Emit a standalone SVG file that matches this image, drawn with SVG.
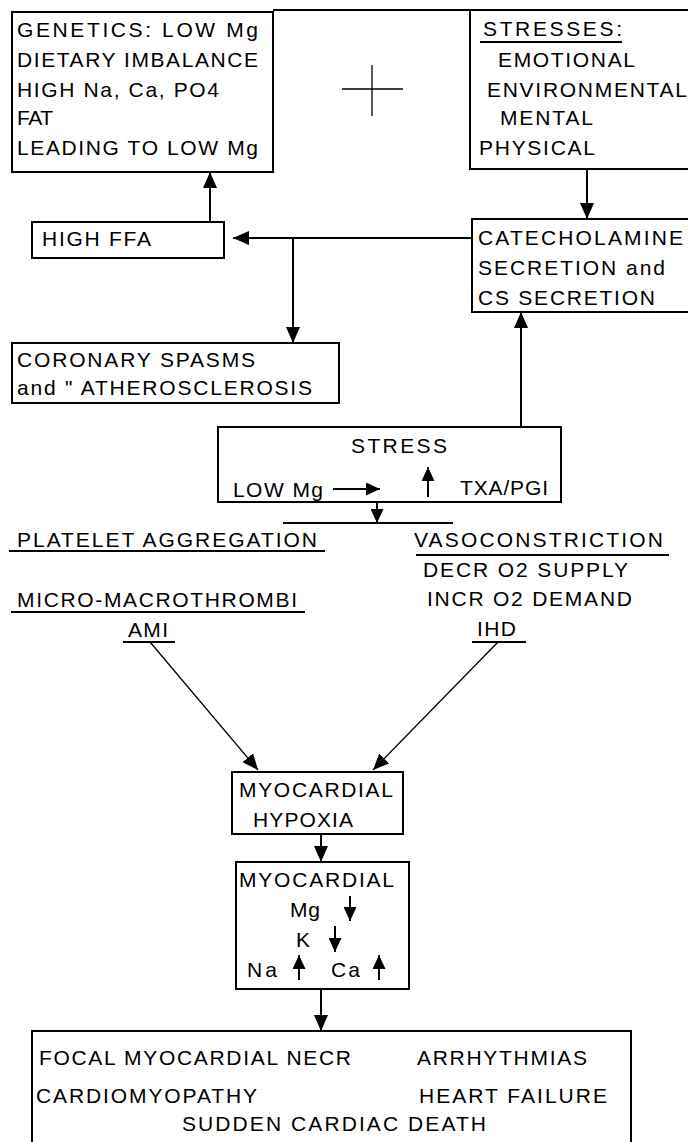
<svg xmlns="http://www.w3.org/2000/svg" width="688" height="1142" viewBox="0 0 688 1142">
<style>
text{font-family:"Liberation Sans",Arial,sans-serif;font-size:21px;fill:#000}
.box{fill:#fff;stroke:#000;stroke-width:2}
.ln{stroke:#000;stroke-width:2;fill:none}
.thin{stroke:#000;stroke-width:1.3;fill:none}
</style>
<defs>
<marker id="ah" viewBox="0 0 16 14" refX="16" refY="7" markerWidth="16" markerHeight="14" orient="auto" markerUnits="userSpaceOnUse"><path d="M0,0 L16,7 L0,14 z" fill="#000"/></marker>
<marker id="as" viewBox="0 0 14 13" refX="14" refY="6.5" markerWidth="14" markerHeight="13" orient="auto" markerUnits="userSpaceOnUse"><path d="M0,0 L14,6.5 L0,13 z" fill="#000"/></marker>
</defs>
<rect x="0" y="0" width="688" height="1142" fill="#fff"/>

<g id="genetics">
<rect class="box" x="12" y="12" width="261" height="160"/>
<text x="17" y="37" textLength="241" lengthAdjust="spacing">GENETICS:  LOW Mg</text>
<text x="17" y="67" textLength="241" lengthAdjust="spacing">DIETARY IMBALANCE</text>
<text x="17" y="97" textLength="202" lengthAdjust="spacing">HIGH Na, Ca, PO4</text>
<text x="17" y="125" textLength="36" lengthAdjust="spacing">FAT</text>
<text x="17" y="155" textLength="241" lengthAdjust="spacing">LEADING TO LOW Mg</text>
</g>

<g id="plus">
<line class="thin" x1="342" y1="89" x2="403" y2="89"/>
<line class="thin" x1="372" y1="65" x2="372" y2="116"/>
</g>

<g id="stresses">
<line class="ln" x1="273" y1="10" x2="470" y2="10"/>
<rect class="box" x="470" y="10" width="240" height="159"/>
<text x="483" y="36" textLength="139" lengthAdjust="spacing">STRESSES:</text>
<line class="ln" x1="480" y1="42" x2="622" y2="42"/>
<text x="498" y="67" textLength="137" lengthAdjust="spacing">EMOTIONAL</text>
<text x="487" y="97" textLength="200" lengthAdjust="spacing">ENVIRONMENTAL</text>
<text x="500" y="125" textLength="93" lengthAdjust="spacing">MENTAL</text>
<text x="479" y="155" textLength="116" lengthAdjust="spacing">PHYSICAL</text>
</g>

<g id="highffa">
<rect class="box" x="32" y="222" width="192" height="36"/>
<text x="42" y="246" textLength="109" lengthAdjust="spacing">HIGH FFA</text>
</g>

<g id="catecholamine">
<rect class="box" x="472" y="219" width="240" height="93"/>
<text x="478" y="245" textLength="205" lengthAdjust="spacing">CATECHOLAMINE</text>
<text x="478" y="275" textLength="187" lengthAdjust="spacing">SECRETION and</text>
<text x="478" y="305" textLength="177" lengthAdjust="spacing">CS SECRETION</text>
</g>

<g id="coronary">
<rect class="box" x="12" y="343" width="327" height="60"/>
<text x="17" y="367" textLength="238" lengthAdjust="spacing">CORONARY SPASMS</text>
<text x="17" y="395" textLength="295" lengthAdjust="spacing">and " ATHEROSCLEROSIS</text>
</g>

<g id="stress">
<rect class="box" x="218" y="427" width="343" height="75"/>
<text x="351" y="453" textLength="96" lengthAdjust="spacing">STRESS</text>
<text x="233" y="497" textLength="90" lengthAdjust="spacing">LOW Mg</text>
<line class="ln" x1="333" y1="489" x2="380" y2="489" marker-end="url(#as)"/>
<line class="ln" x1="428" y1="497" x2="428" y2="467" marker-end="url(#as)"/>
<text x="460" y="495" textLength="88" lengthAdjust="spacing">TXA/PGI</text>
</g>

<g id="platelet">
<text x="17" y="547" textLength="300" lengthAdjust="spacing">PLATELET AGGREGATION</text>
<line class="ln" x1="9" y1="551" x2="325" y2="551"/>
<text x="17" y="607" textLength="280" lengthAdjust="spacing">MICRO-MACROTHROMBI</text>
<line class="ln" x1="11" y1="612" x2="305" y2="612"/>
<text x="128" y="637" textLength="40" lengthAdjust="spacing">AMI</text>
<line class="ln" x1="123" y1="642" x2="175" y2="642"/>
</g>

<g id="vasoconstriction">
<text x="414" y="547" textLength="249" lengthAdjust="spacing">VASOCONSTRICTION</text>
<line class="ln" x1="416" y1="555" x2="669" y2="555"/>
<text x="423" y="577" textLength="205" lengthAdjust="spacing">DECR O2 SUPPLY</text>
<text x="427" y="606" textLength="205" lengthAdjust="spacing">INCR O2 DEMAND</text>
<text x="477" y="636" textLength="39" lengthAdjust="spacing">IHD</text>
<line class="ln" x1="472" y1="642" x2="526" y2="642"/>
</g>

<g id="hypoxia">
<rect class="box" x="232" y="772" width="171" height="62"/>
<text x="239" y="797" textLength="154" lengthAdjust="spacing">MYOCARDIAL</text>
<text x="253" y="827" textLength="100" lengthAdjust="spacing">HYPOXIA</text>
</g>

<g id="myocardial">
<rect class="box" x="236" y="862" width="173" height="127"/>
<text x="239" y="887" textLength="155" lengthAdjust="spacing">MYOCARDIAL</text>
<text x="290" y="917" textLength="30" lengthAdjust="spacing">Mg</text>
<line class="ln" x1="350" y1="896" x2="350" y2="921" marker-end="url(#as)"/>
<text x="296" y="947">K</text>
<line class="ln" x1="335" y1="926" x2="335" y2="952" marker-end="url(#as)"/>
<text x="247" y="977" textLength="30" lengthAdjust="spacing">Na</text>
<line class="ln" x1="299" y1="980" x2="299" y2="955" marker-end="url(#as)"/>
<text x="331" y="977" textLength="29" lengthAdjust="spacing">Ca</text>
<line class="ln" x1="379" y1="980" x2="379" y2="955" marker-end="url(#as)"/>
</g>

<g id="outcomes">
<rect class="box" x="32" y="1031" width="599" height="120"/>
<text x="39" y="1065" textLength="312" lengthAdjust="spacing">FOCAL MYOCARDIAL NECR</text>
<text x="417" y="1065" textLength="170" lengthAdjust="spacing">ARRHYTHMIAS</text>
<text x="36" y="1103" textLength="221" lengthAdjust="spacing">CARDIOMYOPATHY</text>
<text x="419" y="1103" textLength="188" lengthAdjust="spacing">HEART FAILURE</text>
<text x="182" y="1131" textLength="304" lengthAdjust="spacing">SUDDEN CARDIAC DEATH</text>
</g>

<g id="connectors">
<line class="ln" x1="210" y1="222" x2="210" y2="172" marker-end="url(#ah)"/>
<line class="ln" x1="587" y1="169" x2="587" y2="219" marker-end="url(#ah)"/>
<line class="ln" x1="472" y1="238" x2="233" y2="238" marker-end="url(#ah)"/>
<line class="ln" x1="293" y1="238" x2="293" y2="343" marker-end="url(#ah)"/>
<line class="ln" x1="521" y1="427" x2="521" y2="312" marker-end="url(#ah)"/>
<line class="ln" x1="377" y1="502" x2="377" y2="523" marker-end="url(#as)"/>
<line class="ln" x1="283" y1="523" x2="453" y2="523"/>
<line class="thin" x1="150" y1="642" x2="258" y2="770" marker-end="url(#ah)"/>
<line class="thin" x1="498" y1="642" x2="373" y2="770" marker-end="url(#ah)"/>
<line class="ln" x1="321" y1="834" x2="321" y2="862" marker-end="url(#ah)"/>
<line class="ln" x1="321" y1="989" x2="321" y2="1031" marker-end="url(#ah)"/>
</g>
</svg>
